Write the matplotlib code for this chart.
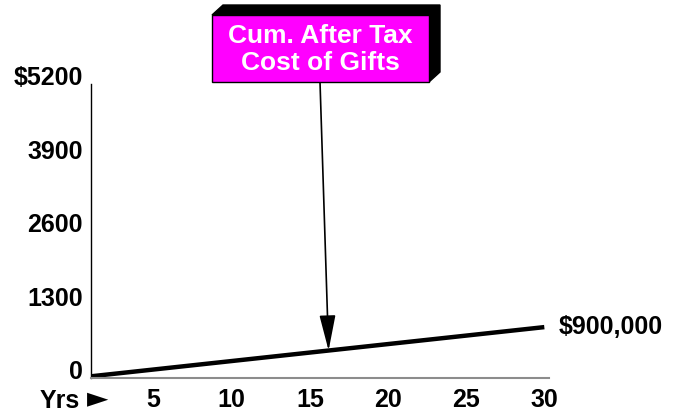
import matplotlib
matplotlib.use("Agg")
import matplotlib.pyplot as plt
import matplotlib.transforms as mtransforms
from matplotlib.patches import Polygon, Rectangle, FancyArrowPatch

# chart data
years = [1, 5, 10, 15, 20, 25, 30]
cum_cost = [30, 150, 300, 450, 600, 750, 900]
x_ticks = [5, 10, 15, 20, 25, 30]
y_ticks = [0, 1300, 2600, 3900, 5200]
y_tick_labels = ["0", "1300", "2600", "3900", "$5200"]
end_label = "$900,000"
callout_text = "Cum. After Tax\nCost of Gifts"

W, H = 673, 416
plt.rcParams["font.family"] = ["Liberation Sans", "DejaVu Sans"]
plt.rcParams["font.weight"] = "bold"

fig = plt.figure(figsize=(W / 100, H / 100), dpi=100)


def px(x0, y0, x1, y1):
    # pixel box (top-left origin) -> figure fraction rect
    return [x0 / W, 1 - y1 / H, (x1 - x0) / W, (y1 - y0) / H]


ax = fig.add_axes(px(91, 84, 549, 378))
ax.plot(years, cum_cost, color="black", lw=3.2, solid_capstyle="butt")
ax.set_xlim(1, 30.3)
ax.set_ylim(0, 5200)

ax.set_xticks(x_ticks)
ax.set_xticklabels([str(t) for t in x_ticks], fontsize=18, fontweight="bold")
ax.set_yticks(y_ticks)
ax.set_yticklabels(y_tick_labels, fontsize=18, fontweight="bold")
ax.tick_params(axis="both", length=0)
ax.tick_params(axis="x", pad=7)
ax.tick_params(axis="y", pad=6)
shift = mtransforms.ScaledTranslation(0, 6 / 72, fig.dpi_scale_trans)
for lab in ax.get_yticklabels():
    lab.set_transform(lab.get_transform() + shift)

for side in ["top", "right"]:
    ax.spines[side].set_visible(False)
ax.spines["left"].set_color("black")
ax.spines["left"].set_linewidth(1.0)
ax.spines["bottom"].set_color("#8c8c8c")
ax.spines["bottom"].set_linewidth(1.5)

ax.annotate(end_label, xy=(years[-1], cum_cost[-1]), xytext=(10, 0),
            textcoords="offset points", ha="left", va="center",
            fontsize=18, fontweight="bold", annotation_clip=False)

# overlay in pixel coordinates for the callout box
ov = fig.add_axes([0, 0, 1, 1], zorder=5)
ov.set_xlim(0, W)
ov.set_ylim(H, 0)
ov.axis("off")
ov.patch.set_alpha(0)

bx0, by0, bx1, by1, d = 212, 15, 429, 82, 11
ov.add_patch(Polygon([(bx0, by0), (bx0 + d, by0 - 10), (bx1 + d, by0 - 10),
                      (bx1 + d, by1 - 10), (bx1, by1), (bx1, by0)],
                     closed=True, facecolor="black", edgecolor="black"))
ov.add_patch(Rectangle((bx0, by0), bx1 - bx0, by1 - by0,
                       facecolor="#ff00ff", edgecolor="black", lw=1))
ov.text((bx0 + bx1) / 2, (by0 + by1) / 2 + 1, callout_text, ha="center",
        va="center", color="white", fontsize=19, fontweight="bold",
        linespacing=1.2)

# arrow from callout to the line
tip = ax.transData.transform((16.2, 486))
start = ov.transData.transform((320, by1))
arrow = FancyArrowPatch(posA=start, posB=tip, transform=None,
                        arrowstyle="-|>,head_length=2.2,head_width=0.5",
                        mutation_scale=10, color="black", lw=1.2,
                        shrinkA=0, shrinkB=0)
fig.add_artist(arrow)

fig.text(40 / W, 1 - 401 / H, "Yrs", ha="left", va="center",
         fontsize=18, fontweight="bold")
fig.text(87 / W, 1 - 398 / H, "\u25ba", ha="left", va="center",
         fontsize=20, family=["DejaVu Sans"])

fig.savefig("out.png", dpi=100)
